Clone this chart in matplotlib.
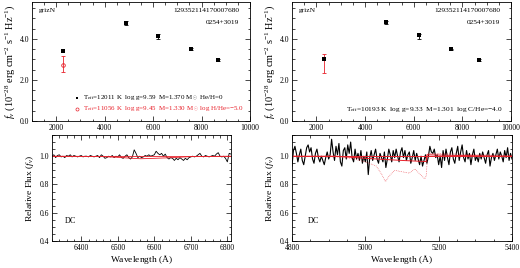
import matplotlib
matplotlib.use('Agg')
from matplotlib import pyplot as plt
from matplotlib.ticker import MultipleLocator

plt.rcParams['font.family'] = ['Liberation Serif', 'DejaVu Serif']
plt.rcParams['mathtext.fontset'] = 'custom'
plt.rcParams['mathtext.rm'] = 'Liberation Serif'
plt.rcParams['mathtext.it'] = 'Liberation Serif:italic'
plt.rcParams['mathtext.sf'] = 'Liberation Serif'

# photometry (Angstrom, 1e-28 erg cm-2 s-1 Hz-1)
bands_wave = [2298, 4866, 6215, 7545, 8679]
left_obs = [2.78, 4.78, 4.12, 3.50, 2.98]
left_err = [0.41, 0.10, 0.13, 0.04, 0.04]
left_model_h = [3.39, 4.77, 4.16, 3.52, 2.98]
left_model_he_nuv = 2.74
right_obs = [2.81, 4.82, 4.12, 3.49, 2.98]
right_err = [0.45, 0.07, 0.13, 0.04, 0.04]
right_model = [3.03, 4.84, 4.17, 3.50, 2.98]

# spectrum around H-alpha
left_wave = list(range(6320, 6815, 5))
left_flux = [1.00, 1.01, 0.99, 1.005, 1.01, 0.995, 1.00, 0.99, 1.005, 1.00,
             1.01, 0.995, 1.005, 1.00, 0.995, 1.00, 1.005, 0.995, 1.00, 1.00,
             0.995, 1.005, 1.00, 0.995, 1.00, 1.005, 0.99, 1.01, 1.00, 0.985,
             0.99, 1.00, 0.995, 1.005, 0.99, 1.00, 0.995, 1.01, 0.99, 0.985,
             1.00, 1.01, 0.99, 0.98, 0.995, 1.045, 1.02, 0.99, 1.00, 0.99,
             0.995, 1.005, 1.00, 1.01, 1.00, 1.005, 1.01, 1.035, 1.02, 1.01,
             1.02, 1.00, 1.015, 0.99, 0.98, 0.99, 0.985, 0.97, 0.985, 0.975,
             0.99, 0.98, 0.97, 0.985, 0.975, 0.99, 0.995, 1.00, 0.995, 1.00,
             1.01, 1.02, 1.00, 0.995, 1.005, 1.00, 0.995, 1.00, 1.005, 1.00,
             1.015, 1.025, 1.00, 0.995, 1.00, 0.985, 0.96, 1.02, 1.015]
left_mod1_wave = [6320, 6810]
left_mod1_flux = [1.0, 1.0]
left_mod2_wave = [6320, 6450, 6500, 6540, 6563, 6600, 6650, 6700, 6810]
left_mod2_flux = [1.0, 0.998, 0.992, 0.985, 0.982, 0.985, 0.99, 0.997, 1.0]

# spectrum around the C2 Swan band
right_wave = list(range(4800, 5404, 4))
right_flux = [0.93, 1.04, 1.07, 1.02, 0.96, 1.01, 1.05, 0.97, 0.94, 1.00,
              1.06, 1.08, 1.03, 1.06, 0.98, 0.95, 1.02, 1.05, 0.99, 0.96,
              1.00, 0.97, 0.94, 0.99, 1.03, 0.98, 1.01, 1.12, 1.03, 0.97,
              1.07, 1.01, 1.09, 0.96, 0.93, 1.04, 1.06, 0.98, 1.08, 1.02,
              1.10, 0.99, 0.96, 1.05, 0.98, 1.02, 0.97, 1.04, 0.95, 1.00,
              0.96, 1.03, 0.87, 0.99, 1.04, 0.97, 1.01, 1.05, 0.98, 0.95,
              1.02, 0.99, 0.96, 1.03, 0.92, 0.98, 1.05, 1.01, 0.96, 1.04,
              0.99, 1.05, 1.00, 0.96, 1.03, 1.06, 0.99, 1.04, 0.97, 1.01,
              1.03, 0.95, 0.99, 1.04, 0.97, 1.02, 0.98, 0.94, 1.00, 0.93,
              0.97, 1.01, 0.95, 1.00, 1.07, 1.03, 1.02, 1.05, 0.99, 1.01,
              0.94, 1.00, 0.92, 1.04, 0.97, 1.05, 0.99, 0.94, 1.03, 1.06,
              0.98, 0.95, 1.02, 1.07, 0.97, 1.03, 1.08, 0.99, 0.96, 1.04,
              0.98, 1.02, 0.94, 1.01, 1.05, 0.97, 1.00, 0.96, 1.02, 0.98,
              1.03, 0.99, 0.95, 1.01, 1.04, 0.93, 0.99, 1.02, 0.97, 1.01,
              1.05, 0.98, 1.03, 1.00, 0.96, 1.04, 0.99, 1.06, 0.97, 1.02,
              0.98]
right_mod1_wave = [4800, 5400]
right_mod1_flux = [1.0, 1.0]
right_mod2_wave = [4800, 4920, 5000, 5100, 5166, 5168, 5250, 5400]
right_mod2_flux = [1.0, 1.0, 0.985, 0.97, 0.962, 1.01, 1.005, 1.0]
right_dot_wave = [4800, 4920, 4960, 5000, 5030, 5045, 5055, 5065, 5080, 5100,
                  5120, 5135, 5150, 5162, 5166, 5170, 5250, 5300, 5400]
right_dot_flux = [1.0, 0.995, 0.985, 0.96, 0.93, 0.87, 0.82, 0.86, 0.90, 0.89,
                  0.88, 0.91, 0.87, 0.84, 0.86, 1.02, 1.015, 1.01, 1.005]

W, H = 520, 268


def box(x0, y0, x1, y1):
    return [x0 / W, 1 - y1 / H, (x1 - x0) / W, (y1 - y0) / H]


fig = plt.figure(figsize=(5.2, 2.68), dpi=100)
ax_tl = fig.add_axes(box(32, 2, 250, 121))
ax_bl = fig.add_axes(box(52, 135, 231, 241))
ax_tr = fig.add_axes(box(292, 2, 511, 121))
ax_br = fig.add_axes(box(292, 135, 512, 241))

red = '#e8202a'
tick_fs = 5.5
txt_fs = 5

for ax in (ax_tl, ax_bl, ax_tr, ax_br):
    ax.tick_params(which='both', direction='in', top=True, right=True,
                   labelsize=tick_fs, width=0.5, pad=2)
    ax.tick_params(which='major', length=3.5)
    ax.tick_params(which='minor', length=1.8)
    for s in ax.spines.values():
        s.set_linewidth(0.6)

flabel = r'$f_\nu$ (10$^{-28}$ erg cm$^{-2}$ s$^{-1}$ Hz$^{-1}$)'

# ---- photometry panels
for ax, obs, err, mod in ((ax_tl, left_obs, left_err, left_model_h),
                          (ax_tr, right_obs, right_err, right_model)):
    ax.errorbar(bands_wave[:1], obs[:1], yerr=err[:1], fmt='none', ecolor=red,
                elinewidth=0.6, capsize=1.6, capthick=0.6)
    ax.errorbar(bands_wave[1:], obs[1:], yerr=err[1:], fmt='none', ecolor='black',
                elinewidth=0.6, capsize=1.6, capthick=0.6)
    ax.plot(bands_wave, mod, 's', color='black', ms=2.4, mew=0)
    ax.set_xlim(1000, 10000)
    ax.set_ylim(0, 5.8)
    ax.xaxis.set_major_locator(MultipleLocator(2000))
    ax.xaxis.set_minor_locator(MultipleLocator(500))
    ax.yaxis.set_major_locator(MultipleLocator(2.0))
    ax.yaxis.set_minor_locator(MultipleLocator(0.5))
    ax.yaxis.set_major_formatter(plt.FormatStrFormatter('%.1f'))
    ax.set_ylabel(flabel, fontsize=7.4, labelpad=2)
    ax.text(0.03, 0.93, 'grizN', transform=ax.transAxes, fontsize=txt_fs + 0.3,
            va='center')
    ax.text(0.95, 0.93, '129352114170007680', transform=ax.transAxes,
            fontsize=txt_fs + 0.3, va='center', ha='right')
    ax.text(0.95, 0.83, '0254+3019', transform=ax.transAxes,
            fontsize=txt_fs + 0.3, va='center', ha='right')

ax_tl.plot([bands_wave[0]], [left_model_he_nuv], 'o', mfc='none', mec=red,
           ms=2.6, mew=0.6)

# legend rows drawn by hand
ax_tl.plot([0.205], [0.19], 's', color='black', ms=2.0, mew=0,
           transform=ax_tl.transAxes, clip_on=False)
ax_tl.text(0.235, 0.19,
           r'T$_{\rm eff}$=12011 K  log g=9.59  M=1.370 M$_\odot$ He/H=0',
           transform=ax_tl.transAxes, fontsize=txt_fs, va='center')
ax_tl.plot([0.205], [0.10], 'o', mfc='none', mec=red, ms=2.2, mew=0.5,
           transform=ax_tl.transAxes, clip_on=False)
ax_tl.text(0.235, 0.10,
           r'T$_{\rm eff}$=11056 K  log g=9.45  M=1.330 M$_\odot$ log H/He=$-$5.0',
           transform=ax_tl.transAxes, fontsize=txt_fs, va='center', color=red)
ax_tr.text(0.245, 0.10,
           r'T$_{\rm eff}$=10193 K  log g=9.33  M=1.301  log C/He=$-$4.0',
           transform=ax_tr.transAxes, fontsize=txt_fs + 0.3, va='center')

# ---- spectra panels
ax_bl.plot(left_wave, left_flux, color='black', lw=0.6)
ax_bl.plot(left_mod1_wave, left_mod1_flux, color=red, lw=0.6)
ax_bl.plot(left_mod2_wave, left_mod2_flux, color=red, lw=0.6)
ax_bl.set_xlim(6320, 6810)
ax_bl.xaxis.set_major_locator(MultipleLocator(100))
ax_bl.xaxis.set_minor_locator(MultipleLocator(20))

ax_br.plot(right_wave, right_flux, color='black', lw=0.8)
ax_br.plot(right_mod1_wave, right_mod1_flux, color=red, lw=0.7)
ax_br.plot(right_mod2_wave, right_mod2_flux, color=red, lw=0.7)
ax_br.plot(right_dot_wave, right_dot_flux, color=red, lw=0.5, ls=(0, (1, 1.5)),
           alpha=0.8)
ax_br.set_xlim(4800, 5400)
ax_br.xaxis.set_major_locator(MultipleLocator(200))
ax_br.xaxis.set_minor_locator(MultipleLocator(50))

for ax in (ax_bl, ax_br):
    ax.set_ylim(0.4, 1.15)
    ax.yaxis.set_major_locator(MultipleLocator(0.2))
    ax.yaxis.set_minor_locator(MultipleLocator(0.05))
    ax.yaxis.set_major_formatter(plt.FormatStrFormatter('%.1f'))
    ax.tick_params(axis='x', which='major', pad=2.5)
    ax.set_ylabel(r'Relative Flux ($f_\nu$)', fontsize=6.8, labelpad=3)
    ax.set_xlabel(r'Wavelength ($\rm \AA$)', fontsize=6.8, labelpad=0.5)
    ax.text(0.07, 0.19, 'DC', transform=ax.transAxes, fontsize=txt_fs + 0.8,
            va='center')

fig.savefig('out.png', dpi=100)
